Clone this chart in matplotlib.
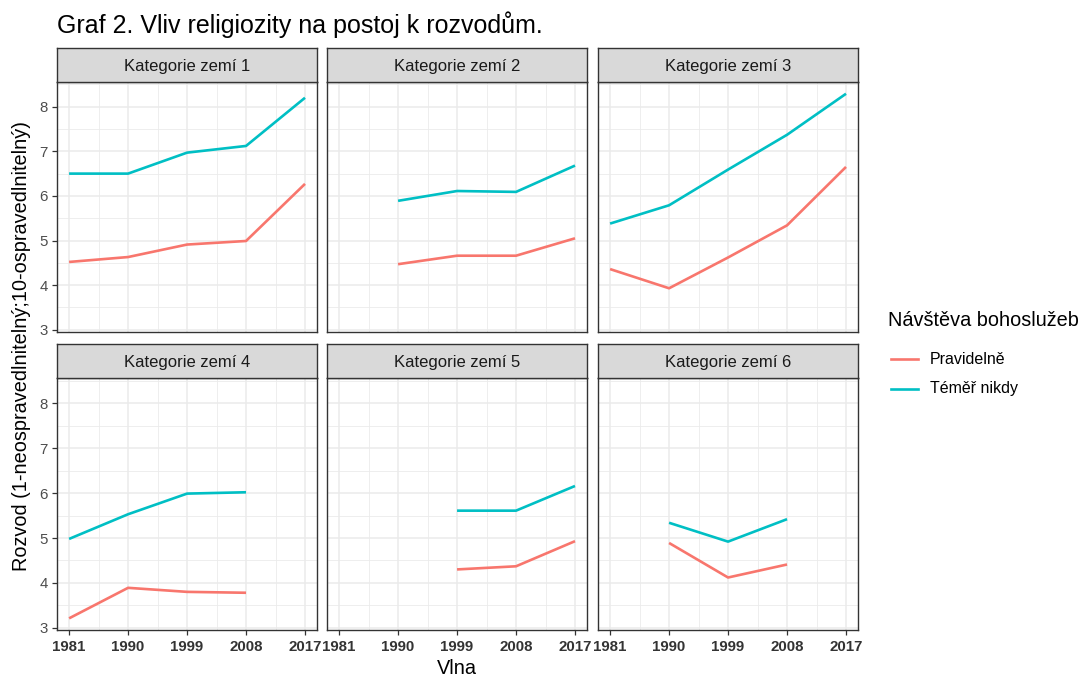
import numpy as np
import matplotlib
matplotlib.use('Agg')
import matplotlib.pyplot as plt
from matplotlib.lines import Line2D

plt.rcParams['font.family'] = ['Liberation Sans', 'DejaVu Sans']

waves = [1981, 1990, 1999, 2008, 2017]
panels = ['Kategorie zemí 1', 'Kategorie zemí 2', 'Kategorie zemí 3',
          'Kategorie zemí 4', 'Kategorie zemí 5', 'Kategorie zemí 6']
groups = ['Pravidelně', 'Téměř nikdy']
nan = np.nan

# Pravidelně (regular attendance)
pravidelne = [
    [4.52, 4.63, 4.91, 4.99, 6.27],
    [nan, 4.47, 4.66, 4.66, 5.05],
    [4.36, 3.93, 4.62, 5.34, 6.65],
    [3.21, 3.89, 3.80, 3.78, nan],
    [nan, nan, 4.30, 4.37, 4.93],
    [nan, 4.89, 4.12, 4.41, nan],
]
# Téměř nikdy (almost never)
temer_nikdy = [
    [6.50, 6.50, 6.97, 7.12, 8.20],
    [nan, 5.89, 6.11, 6.09, 6.68],
    [5.38, 5.79, 6.59, 7.37, 8.29],
    [4.98, 5.53, 5.99, 6.02, nan],
    [nan, nan, 5.61, 5.61, 6.16],
    [nan, 5.34, 4.92, 5.42, nan],
]
colors = ['#F8766D', '#00BFC4']

W, H = 1086, 677
fig = plt.figure(figsize=(W / 100, H / 100), dpi=100)

col_left = [57.3, 327.3, 598.3]
panel_w = 259.5
rows = [(48.3, 81.7, 332.0), (344.0, 378.3, 630.0)]  # strip top, strip bottom, panel bottom

grid_major = '#EBEBEB'
dark = '#333333'

for i, name in enumerate(panels):
    r, c = divmod(i, 3)
    s_top, s_bot, p_bot = rows[r]
    x0 = col_left[c]
    ax = fig.add_axes([x0 / W, 1 - p_bot / H, panel_w / W, (p_bot - s_bot) / H])
    # strip
    sax = fig.add_axes([x0 / W, 1 - s_bot / H, panel_w / W, (s_bot - s_top) / H])
    sax.set_facecolor('#D9D9D9')
    sax.set_xticks([])
    sax.set_yticks([])
    for sp in sax.spines.values():
        sp.set_color(dark)
        sp.set_linewidth(1.0)
    sax.text(0.5, 0.47, name, ha='center', va='center', fontsize=12, color='#1A1A1A',
             transform=sax.transAxes)

    ax.plot(waves, pravidelne[i], color=colors[0], lw=1.9, solid_capstyle='butt')
    ax.plot(waves, temer_nikdy[i], color=colors[1], lw=1.9, solid_capstyle='butt')

    ax.set_xlim(1979.2, 2018.8)
    ax.set_ylim(2.95, 8.56)
    ax.set_xticks(waves)
    ax.set_xticks([1985.5, 1994.5, 2003.5, 2012.5], minor=True)
    ax.set_yticks([3, 4, 5, 6, 7, 8])
    ax.set_yticks([3.5, 4.5, 5.5, 6.5, 7.5, 8.5], minor=True)
    ax.grid(True, which='major', color=grid_major, lw=1.1)
    ax.grid(True, which='minor', color=grid_major, lw=0.6)
    ax.set_axisbelow(True)
    for sp in ax.spines.values():
        sp.set_color(dark)
        sp.set_linewidth(1.0)
    ax.tick_params(which='minor', length=0)
    ax.tick_params(which='major', length=3.5, width=0.9, color=dark,
                   labelcolor='#4D4D4D', labelsize=10.8, pad=3.5)
    if c != 0:
        ax.tick_params(axis='y', length=0, labelleft=False)
    if r != 1:
        ax.tick_params(axis='x', length=0, labelbottom=False)
    else:
        for lab in ax.get_xticklabels():
            lab.set_fontweight('bold')
            lab.set_color('#333333')

fig.text(57 / W, 1 - 33 / H, 'Graf 2. Vliv religiozity na postoj k rozvodům.',
         fontsize=18, ha='left', va='baseline', color='black')
fig.text(22 / W, 1 - 346 / H, 'Rozvod (1-neospravedlnitelný;10-ospravedlnitelný)',
         rotation=90, fontsize=14.3, ha='center', va='center')
fig.text(457 / W, 1 - 668 / H, 'Vlna', fontsize=14.3, ha='center', va='center')

# legend
fig.text(888 / W, 1 - 320 / H, 'Návštěva bohoslužeb', fontsize=14.3,
         ha='left', va='center')
for k, (lab, col) in enumerate(zip(groups, colors)):
    yc = 1 - (359 + 30 * k) / H
    fig.add_artist(Line2D([891 / W, 918 / W], [yc, yc], color=col, lw=1.9,
                          transform=fig.transFigure))
    fig.text(930 / W, yc, lab, fontsize=11.5, ha='left', va='center')

fig.savefig('out.png', dpi=100)
